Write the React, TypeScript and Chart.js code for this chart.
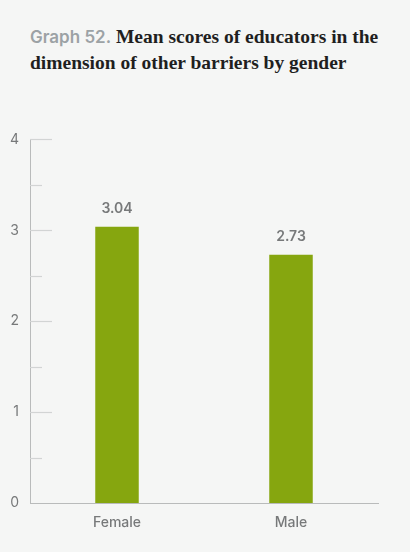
import React, { useEffect, useRef } from "react";
import { Chart, registerables } from "chart.js";

Chart.register(...registerables);

const categories = ["Female", "Male"];
const meanScores = [3.04, 2.73];
const yTicks = [0, 0.5, 1, 1.5, 2, 2.5, 3, 3.5, 4];

const BG = "#f5f6f5";
const BAR = "#86a60f";
const AXIS = "#b9bbbb";
const TEXT = "#77797a";

const innerTicks = {
  id: "innerTicks",
  afterDraw(chart: any) {
    const { ctx, chartArea } = chart;
    const y = chart.scales.y;
    ctx.save();
    ctx.strokeStyle = "#d2d4d4";
    y.ticks.forEach((t: any) => {
      if (t.value === 0) return;
      const py = Math.round(y.getPixelForValue(t.value)) + 0.5;
      const len = Number.isInteger(t.value) ? 22 : 12;
      ctx.lineWidth = 1.2;
      ctx.beginPath();
      ctx.moveTo(chartArea.left, py);
      ctx.lineTo(chartArea.left + len, py);
      ctx.stroke();
    });
    ctx.restore();
  },
};

const valueLabels = {
  id: "valueLabels",
  afterDatasetsDraw(chart: any) {
    const { ctx } = chart;
    const meta = chart.getDatasetMeta(0);
    ctx.save();
    ctx.fillStyle = TEXT;
    ctx.font = "600 14px Inter";
    ctx.textAlign = "center";
    ctx.textBaseline = "bottom";
    meta.data.forEach((bar: any, i: number) => {
      ctx.fillText(meanScores[i].toFixed(2), bar.x, bar.y - 11);
    });
    ctx.restore();
  },
};

export default function App() {
  const ref = useRef<HTMLCanvasElement>(null);
  useEffect(() => {
    document.body.style.margin = "0";
    document.body.style.background = BG;
    const chart = new Chart(ref.current!, {
      type: "bar",
      data: {
        labels: categories,
        datasets: [
          {
            data: meanScores,
            backgroundColor: BAR,
            borderWidth: 0,
            barPercentage: 0.25,
            categoryPercentage: 1,
          },
        ],
      },
      options: {
        animation: false,
        responsive: false,
        maintainAspectRatio: false,
        layout: { padding: { top: 17, right: 32, left: 0, bottom: 0 } },
        plugins: {
          legend: { display: false },
          tooltip: { enabled: false },
          title: { display: false },
        },
        scales: {
          x: {
            afterFit: (axis: any) => {
              axis.height = 49;
            },
            grid: { display: false, drawTicks: false },
            border: { display: true, color: AXIS, width: 1 },
            ticks: {
              color: TEXT,
              font: { family: "Inter", size: 14, weight: "500" },
              padding: 11,
            },
          },
          y: {
            min: 0,
            max: 4,
            afterFit: (axis: any) => {
              axis.width = 30;
            },
            afterBuildTicks: (axis: any) => {
              axis.ticks = yTicks.map((v) => ({ value: v }));
            },
            grid: { display: false, drawTicks: false },
            border: { display: true, color: AXIS, width: 1 },
            ticks: {
              color: TEXT,
              font: { family: "Inter", size: 14 },
              padding: 11,
              callback: (v: any) => (Number.isInteger(v) ? String(v) : ""),
            },
          },
        },
      },
      plugins: [innerTicks, valueLabels],
    });
    return () => chart.destroy();
  }, []);

  return (
    <div
      style={{
        position: "absolute",
        left: 0,
        top: 0,
        width: 410,
        height: 552,
        background: BG,
        overflow: "hidden",
      }}
    >
      <div
        style={{
          position: "absolute",
          left: 30,
          top: 24,
          width: 380,
          whiteSpace: "nowrap",
          fontSize: 19.5,
          lineHeight: "26px",
          color: "#1f1f1f",
          fontFamily: "'Liberation Serif', serif",
          fontWeight: 700,
        }}
      >
        <span
          style={{
            fontFamily: "Inter, sans-serif",
            fontWeight: 600,
            fontSize: 17,
            color: "#9ca2a5",
          }}
        >
          Graph 52.
        </span>{" "}
        Mean scores of educators in the
        <br />
        dimension of other barriers by gender
      </div>
      <canvas
        ref={ref}
        width={410}
        height={432}
        style={{ position: "absolute", left: 0, top: 120, width: 410, height: 432 }}
      />
    </div>
  );
}
